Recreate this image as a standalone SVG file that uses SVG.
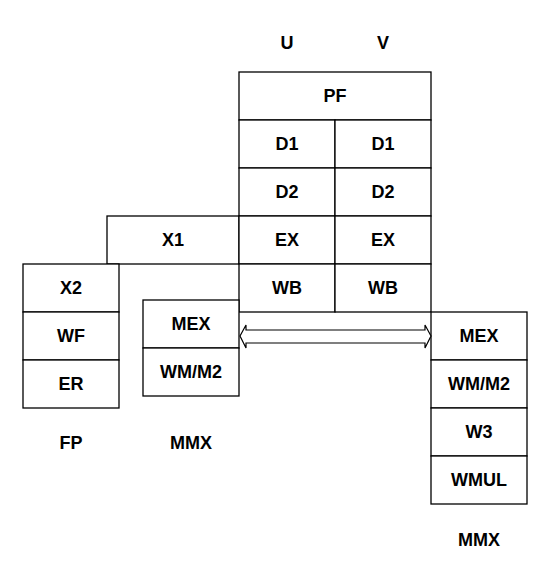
<svg xmlns="http://www.w3.org/2000/svg" width="553" height="568" viewBox="0 0 553 568">
<style>
.b{fill:#fff;stroke:#000;stroke-width:1.3}
text{font-family:"Liberation Sans",Arial,sans-serif;font-weight:bold;font-size:18px;text-anchor:middle;dominant-baseline:central;fill:#000}
</style>
<rect width="553" height="568" fill="#fff"/>
<text x="287" y="43">U</text>
<text x="383" y="43">V</text>
<g id="PF"><rect class="b" x="239" y="72" width="192" height="48"/><text x="335" y="96">PF</text></g>
<g id="D1U"><rect class="b" x="239" y="120" width="96" height="48"/><text x="287" y="144">D1</text></g>
<g id="D1V"><rect class="b" x="335" y="120" width="96" height="48"/><text x="383" y="144">D1</text></g>
<g id="D2U"><rect class="b" x="239" y="168" width="96" height="48"/><text x="287" y="192">D2</text></g>
<g id="D2V"><rect class="b" x="335" y="168" width="96" height="48"/><text x="383" y="192">D2</text></g>
<g id="X1"><rect class="b" x="107" y="216" width="132" height="48"/><text x="173" y="240">X1</text></g>
<g id="EXU"><rect class="b" x="239" y="216" width="96" height="48"/><text x="287" y="240">EX</text></g>
<g id="EXV"><rect class="b" x="335" y="216" width="96" height="48"/><text x="383" y="240">EX</text></g>
<g id="WBU"><rect class="b" x="239" y="264" width="96" height="48"/><text x="287" y="288">WB</text></g>
<g id="WBV"><rect class="b" x="335" y="264" width="96" height="48"/><text x="383" y="288">WB</text></g>
<g id="X2"><rect class="b" x="23" y="264" width="96" height="48"/><text x="71" y="288">X2</text></g>
<g id="WF"><rect class="b" x="23" y="312" width="96" height="48"/><text x="71" y="336">WF</text></g>
<g id="ER"><rect class="b" x="23" y="360" width="96" height="48"/><text x="71" y="384">ER</text></g>
<g id="MEX1"><rect class="b" x="143" y="300" width="96" height="48"/><text x="191" y="324">MEX</text></g>
<g id="WM1"><rect class="b" x="143" y="348" width="96" height="48"/><text x="191" y="372">WM/M2</text></g>
<g id="MEX2"><rect class="b" x="431" y="312" width="96" height="48"/><text x="479" y="336">MEX</text></g>
<g id="WM2"><rect class="b" x="431" y="360" width="96" height="48"/><text x="479" y="384">WM/M2</text></g>
<g id="W3"><rect class="b" x="431" y="408" width="96" height="48"/><text x="479" y="432">W3</text></g>
<g id="WMUL"><rect class="b" x="431" y="456" width="96" height="48"/><text x="479" y="480">WMUL</text></g>
<text x="71" y="443">FP</text>
<text x="191" y="443">MMX</text>
<text x="479" y="540">MMX</text>
<g id="connectors">
<polygon points="240,336 246,325 246,330 425,330 425,325 431,336 425,348 425,343 246,343 246,348" fill="#fff" stroke="#000" stroke-width="1.2"/>
</g>
</svg>
